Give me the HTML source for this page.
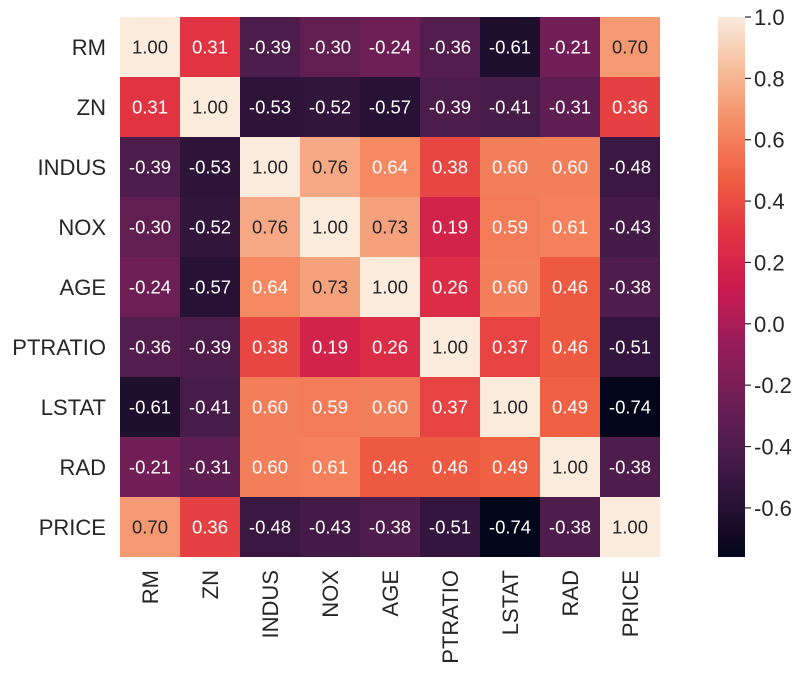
<!DOCTYPE html>
<html><head><meta charset="utf-8"><style>
body{margin:0;background:#fff;}
svg text{font-family:"Liberation Sans",Arial,sans-serif;}
</style></head><body>
<svg id="chart" width="807" height="677" xmlns="http://www.w3.org/2000/svg">
<defs><linearGradient id="cbgrad" x1="0" y1="1" x2="0" y2="0"></linearGradient></defs>
<g id="cells"></g>
<g id="ylab"></g>
<g id="xlab"></g>
<g id="cbar"></g>
</svg>
<script>
const labels=["RM","ZN","INDUS","NOX","AGE","PTRATIO","LSTAT","RAD","PRICE"];
const row0=[1.00,0.31,-0.39,-0.30,-0.24,-0.36,-0.61,-0.21,0.70];
const row1=[0.31,1.00,-0.53,-0.52,-0.57,-0.39,-0.41,-0.31,0.36];
const row2=[-0.39,-0.53,1.00,0.76,0.64,0.38,0.60,0.60,-0.48];
const row3=[-0.30,-0.52,0.76,1.00,0.73,0.19,0.59,0.61,-0.43];
const row4=[-0.24,-0.57,0.64,0.73,1.00,0.26,0.60,0.46,-0.38];
const row5=[-0.36,-0.39,0.38,0.19,0.26,1.00,0.37,0.46,-0.51];
const row6=[-0.61,-0.41,0.60,0.59,0.60,0.37,1.00,0.49,-0.74];
const row7=[-0.21,-0.31,0.60,0.61,0.46,0.46,0.49,1.00,-0.38];
const row8=[0.70,0.36,-0.48,-0.43,-0.38,-0.51,-0.74,-0.38,1.00];
const matrix=[row0,row1,row2,row3,row4,row5,row6,row7,row8];
const cbTicks=[1.0,0.8,0.6,0.4,0.2,0.0,-0.2,-0.4,-0.6];
const cbTickLabels=["1.0","0.8","0.6","0.4","0.2","0.0","-0.2","-0.4","-0.6"];

const NS="http://www.w3.org/2000/svg";
const X0=120,Y0=17,CS=60;
const vmin=-0.7377,vmax=1.0,tickMin=-0.76;
const stops=[[3,5,26],[40,18,54],[76,29,75],[114,31,87],[154,28,90],[203,27,79],[225,51,66],[240,94,66],[245,140,100],[246,187,152],[250,235,221]];
function cmap(v){let t=(v-vmin)/(vmax-vmin);t=Math.max(0,Math.min(1,t))*10;let i=Math.min(9,Math.floor(t)),f=t-i;
 const a=stops[i],b=stops[i+1];return a.map((x,k)=>Math.round(x+(b[k]-x)*f));}
function rgb(c){return `rgb(${c[0]},${c[1]},${c[2]})`;}
function lum(c){const l=c.map(x=>{x/=255;return x<=0.03928?x/12.92:Math.pow((x+0.055)/1.055,2.4)});return 0.2126*l[0]+0.7152*l[1]+0.0722*l[2];}
function mk(tag,attrs,parent){const e=document.createElementNS(NS,tag);for(const k in attrs)e.setAttribute(k,attrs[k]);parent.appendChild(e);return e;}
const xs=i=>X0+i*CS, ys=j=>Y0+j*CS;
const cells=document.getElementById('cells');
matrix.forEach((row,j)=>row.forEach((v,i)=>{
 const c=cmap(v);
 const r=mk('rect',{x:xs(i),y:ys(j),width:CS,height:CS,fill:rgb(c)},cells);
 
 
 const t=mk('text',{x:xs(i)+CS/2,y:ys(j)+CS/2+6.5,'text-anchor':'middle','font-size':18.5,fill:lum(c)>0.408?'#262626':'#ffffff'},cells);
 t.textContent=v.toFixed(2);
 
 
}));
const yl=document.getElementById('ylab'),xl=document.getElementById('xlab');
labels.forEach((l,k)=>{
 const t=mk('text',{x:106,y:ys(k)+CS/2+8,'text-anchor':'end','font-size':22,fill:'#262626'},yl);t.textContent=l;
 
 
 const cx=xs(k)+CS/2+8;
 const u=mk('text',{x:cx,y:570,'text-anchor':'end','font-size':22,fill:'#262626',transform:`rotate(-90 ${cx} 570)`},xl);u.textContent=l;
 
 
});
const g=document.getElementById('cbgrad');
for(let k=0;k<=10;k++){mk('stop',{offset:(k*10)+'%','stop-color':rgb(stops[k])},g);}
const cb=document.getElementById('cbar');
const cbY=v=>17+(vmax-v)/(vmax-tickMin)*540;
const br=mk('rect',{x:718,y:17,width:27,height:540,fill:'url(#cbgrad)'},cb);


cbTicks.forEach((v,k)=>{
 const y=cbY(v);
 mk('line',{x1:745,x2:751,y1:y,y2:y,stroke:'#262626','stroke-width':1.2},cb);
 const t=mk('text',{x:754,y:y+8,'font-size':22,fill:'#262626'},cb);t.textContent=cbTickLabels[k];
 
 
});
</script>
</body></html>
